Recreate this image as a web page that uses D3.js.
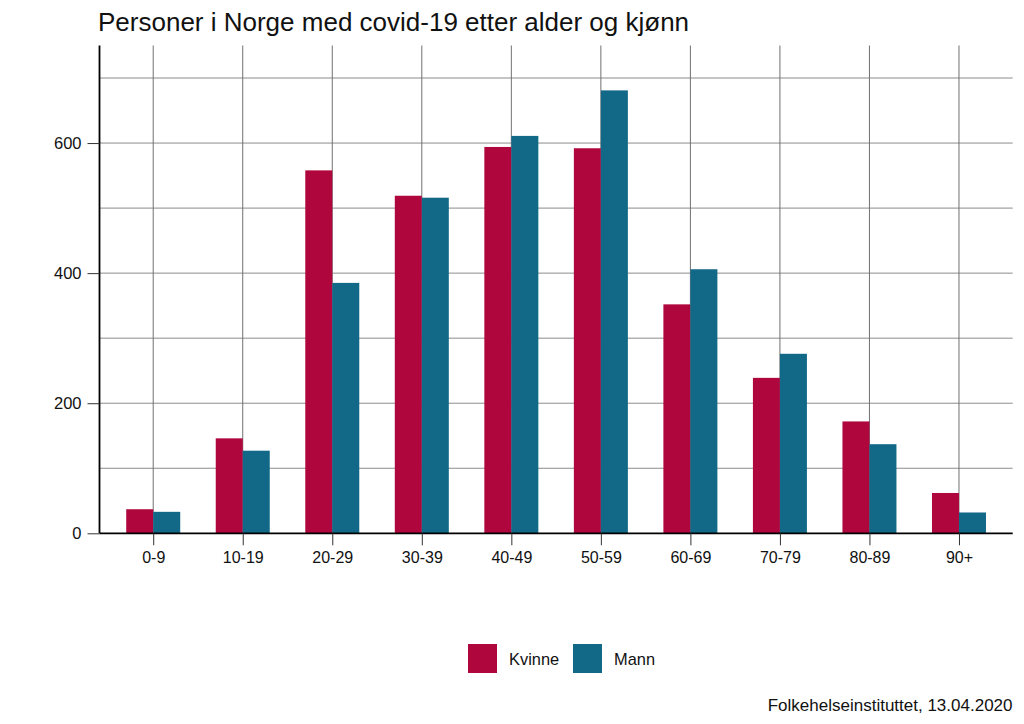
<!DOCTYPE html>
<html><head><meta charset="utf-8">
<script src="https://cdn.jsdelivr.net/npm/d3@7"></script>
<style>body{margin:0;background:#fff}svg{display:block;font-family:"Liberation Sans",Arial,sans-serif}</style>
</head><body><svg id="c" width="1024" height="724"></svg>
<script>
const categories = ["0-9","10-19","20-29","30-39","40-49","50-59","60-69","70-79","80-89","90+"];
const kvinne = [37,146,558,519,594,592,352,239,172,62];
const mann = [33,127,385,516,611,681,406,276,137,32];
const seriesNames = ["Kvinne","Mann"];
const colors = ["#B0063E","#116887"];
const yTicks = [0,200,400,600];
const yGrid = [100,200,300,400,500,600,700];
const title = "Personer i Norge med covid-19 etter alder og kjønn";
const caption = "Folkehelseinstituttet, 13.04.2020";

const svg = d3.select("#c");
const L = 99.5, R = 1012.7, T = 45.5, B = 533.3;
const x = d3.scalePoint().domain(categories).range([L, R]).padding(0.6);
const y = d3.scaleLinear().domain([0, 750]).range([B, T]);
const sub = d3.scaleBand().domain(seriesNames).range([-27, 27]);

svg.append("text").attr("x", 98).attr("y", 31).attr("font-size", 26).attr("fill", "#111").text(title);

// horizontal grid
svg.append("g").selectAll("line").data(yGrid).join("line")
  .attr("x1", L).attr("x2", R).attr("y1", d => y(d)).attr("y2", d => y(d))
  .attr("stroke", "#8c8c8c").attr("stroke-width", 1);
// vertical grid
svg.append("g").selectAll("line").data(categories).join("line")
  .attr("x1", d => x(d)).attr("x2", d => x(d)).attr("y1", T).attr("y2", B)
  .attr("stroke", "#707070").attr("stroke-width", 1);

const data = categories.map((c, i) => ({c, vals: [kvinne[i], mann[i]]}));
const g = svg.append("g");
seriesNames.forEach((s, si) => {
  g.append("g").selectAll("rect").data(data).join("rect")
    .attr("x", d => x(d.c) + sub(s)).attr("width", sub.bandwidth())
    .attr("y", d => y(d.vals[si])).attr("height", d => B - y(d.vals[si]))
    .attr("fill", colors[si]);
});

// axes
const xa = svg.append("g").attr("transform", `translate(0,${B})`)
  .call(d3.axisBottom(x).tickSize(12).tickPadding(6));
xa.select(".domain").attr("d", `M${L},0H${R}`).attr("stroke", "#000").attr("stroke-width", 1.8);
xa.selectAll(".tick line").attr("stroke", "#333");
xa.selectAll(".tick text").attr("font-size", 16).attr("fill", "#111").attr("font-family", "Liberation Sans, Arial, sans-serif");

const ya = svg.append("g").attr("transform", `translate(${L},0)`)
  .call(d3.axisLeft(y).tickValues(yTicks).tickSize(12).tickPadding(6));
ya.select(".domain").attr("d", `M0,${T}V${B}`).attr("stroke", "#000").attr("stroke-width", 1.8);
ya.selectAll(".tick line").attr("stroke", "#333");
ya.selectAll(".tick text").attr("font-size", 16.5).attr("fill", "#111").attr("font-family", "Liberation Sans, Arial, sans-serif");

// legend
const leg = svg.append("g");
const legX = [468, 573];
seriesNames.forEach((s, i) => {
  leg.append("rect").attr("x", legX[i]).attr("y", 644).attr("width", 29).attr("height", 29).attr("fill", colors[i]);
  leg.append("text").attr("x", legX[i] + 41).attr("y", 665).attr("font-size", 16.4).attr("fill", "#111").text(s);
});

svg.append("text").attr("x", 1012.5).attr("y", 711).attr("text-anchor", "end").attr("font-size", 17).attr("fill", "#111").text(caption);
</script></body></html>
